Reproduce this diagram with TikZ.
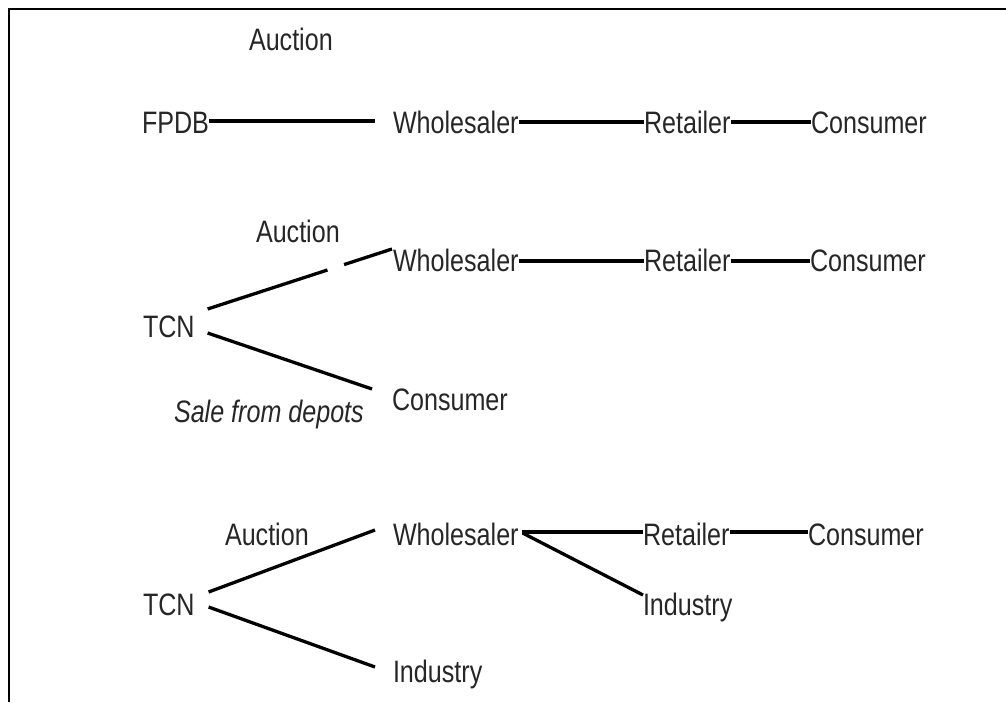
\documentclass[tikz,border=0pt]{standalone}
\usepackage{fontspec}
\setmainfont{Liberation Sans}[FakeStretch=0.81]
\usetikzlibrary{calc}
\begin{document}
\begin{tikzpicture}[x=1pt,y=-1pt,
  every node/.style={inner sep=0pt, outer sep=0pt, anchor=base west,
                     text=black!85, font=\fontsize{31}{37}\selectfont},
  link/.style={line width=3.3pt},
  frame/.style={line width=2pt}]
\useasboundingbox (0,0) rectangle (1006,702);
% outer frame (top and left edges)
\draw[frame] (9,702) -- (9,9) -- (1006,9);

% --- chain 1: FPDB ---
\node (auc1) at (249,50) {Auction};
\node (fpdb) at (142,133) {FPDB};
\node (wh1)  at (393,133) {Wholesaler};
\node (ret1) at (644,133) {Retailer};
\node (con1) at (811,133) {Consumer};

\draw[link] ([yshift=12pt]fpdb.base east) -- ([xshift=-18pt,yshift=12pt]wh1.base west);
\draw[link] ([yshift=11pt]wh1.base east) -- ([yshift=11pt]ret1.base west);
\draw[link] ([yshift=11pt]ret1.base east) -- ([yshift=11pt]con1.base west);

% --- chain 2: TCN via auction and depots ---
\node (auc2)   at (256,242) {Auction};
\node (wh2)    at (393,271) {Wholesaler};
\node (ret2)   at (644,271) {Retailer};
\node (con2)   at (810,271) {Consumer};
\node (tcn2)   at (143,337) {TCN};
\node (con2b)  at (392,410) {Consumer};
\node (depots) at (174,422) {\itshape Sale from depots};

\coordinate (s2) at ([xshift=13pt,yshift=28pt]tcn2.base east);
\coordinate (e2) at ([xshift=-1pt,yshift=22pt]wh2.base west);
\draw[link] (s2) -- ($(s2)!0.65!(e2)$);
\draw[link] ($(s2)!0.74!(e2)$) -- (e2);
\draw[link] ([xshift=13pt,yshift=4pt]tcn2.base east) -- ([xshift=-20pt,yshift=21pt]con2b.base west);
\draw[link] ([yshift=10pt]wh2.base east) -- ([yshift=10pt]ret2.base west);
\draw[link] ([yshift=10pt]ret2.base east) -- ([yshift=10pt]con2.base west);

% --- chain 3: TCN to wholesaler and industry ---
\node (auc3)  at (225,545) {Auction};
\node (wh3)   at (393,545) {Wholesaler};
\node (ret3)  at (643,545) {Retailer};
\node (con3)  at (808,545) {Consumer};
\node (ind3a) at (643,615) {Industry};
\node (tcn3)  at (143,615) {TCN};
\node (ind3b) at (393,682) {Industry};

\draw[link] ([xshift=14pt,yshift=23pt]tcn3.base east) -- ([xshift=-18pt,yshift=15pt]wh3.base west);
\draw[link] ([xshift=14pt,yshift=8pt]tcn3.base east) -- ([xshift=-18pt,yshift=15pt]ind3b.base west);
\draw[link] ([xshift=3pt,yshift=13pt]wh3.base east) -- ([yshift=13pt]ret3.base west);
\draw[link] ([yshift=13pt]ret3.base east) -- ([yshift=13pt]con3.base west);
\draw[link] ([xshift=4pt,yshift=12pt]wh3.base east) -- ([yshift=20pt]ind3a.base west);
\end{tikzpicture}
\end{document}
